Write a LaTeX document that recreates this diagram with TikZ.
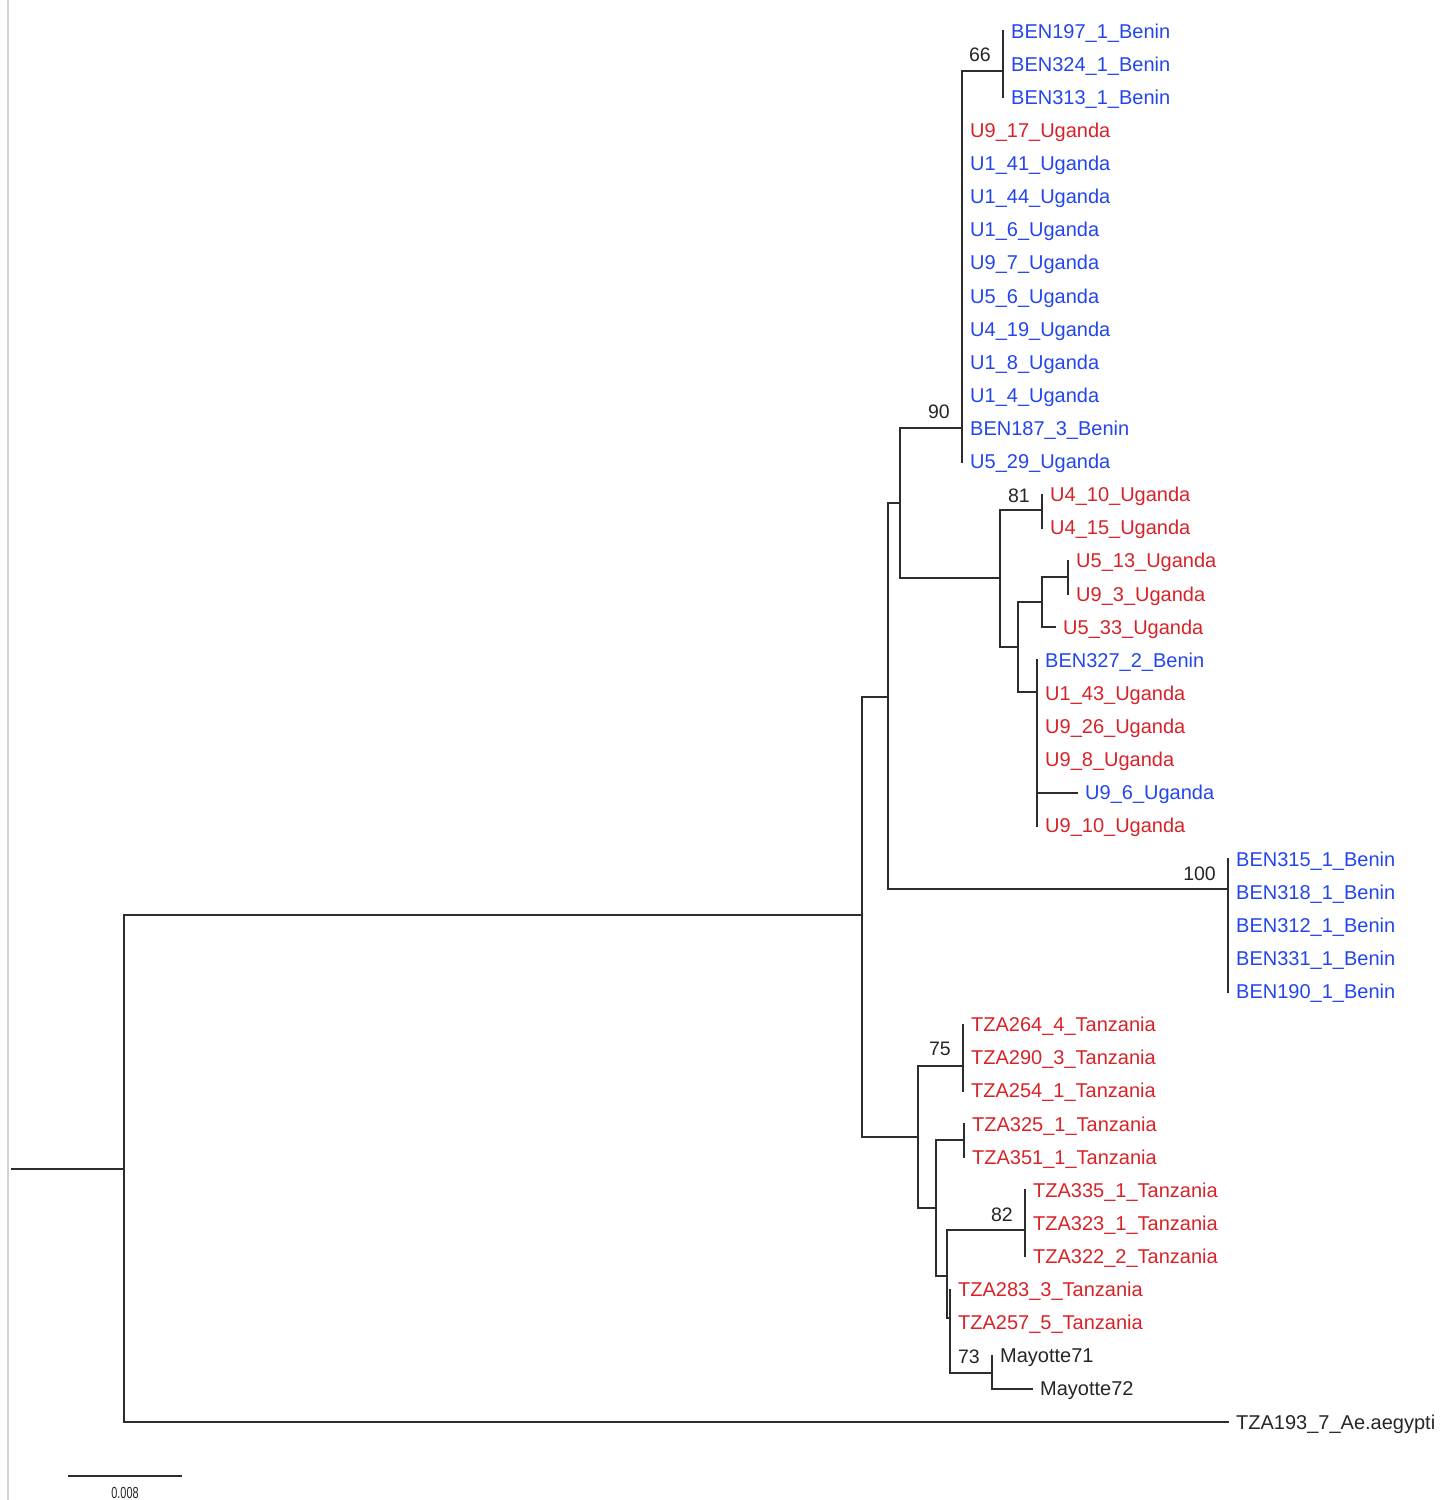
\documentclass[tikz,border=0pt]{standalone}
\usepackage{fontspec}
\setmainfont{Liberation Sans}
\definecolor{tblue}{RGB}{35,70,235}
\definecolor{tred}{RGB}{215,35,40}
\definecolor{tline}{RGB}{45,45,45}
\newcommand\myleaf[5]{%
  \coordinate (tip#1) at (#2,#3);
  \node[lbl,#4] (lab#1) at (#2+8,#3+7) {#5};}
\begin{document}
\begin{tikzpicture}[x=1pt,y=-1pt,
  br/.style={draw=tline,line width=2pt,line cap=rect},
  lbl/.style={anchor=base west,inner sep=0pt,font=\fontsize{20}{22}\selectfont},
  lb/.style={text=tblue},
  lr/.style={text=tred},
  lk/.style={text=black!85},
  boot/.style={anchor=base east,inner sep=0pt,text=black!85,font=\fontsize{19.5}{22}\selectfont}]
\useasboundingbox (0,0) rectangle (1456,1500);
% left frame line
\coordinate (fa) at (8,0);
\coordinate (fb) at (8,1500);
\draw[gray!35,line width=1.6pt] (fa) -- (fb);
% internal nodes
\coordinate (stem) at (12,1169);
\coordinate (root) at (124,1169);
\coordinate (ing) at (862,915);
\coordinate (up) at (888,697);
\coordinate (u1) at (900,503);
\coordinate (n90) at (962,428);
\coordinate (n66) at (1003,71);
\coordinate (n2) at (1000,578);
\coordinate (n81) at (1042,510);
\coordinate (n3) at (1018,647);
\coordinate (n4) at (1042,602);
\coordinate (n6) at (1068,577);
\coordinate (n5) at (1037,692);
\coordinate (n100) at (1228,889);
\coordinate (tz) at (918,1137);
\coordinate (n75) at (963,1066);
\coordinate (tzb) at (936,1208);
\coordinate (tzc) at (964,1140);
\coordinate (tzd) at (947,1276);
\coordinate (n82) at (1025,1230);
\coordinate (tze) at (950,1318);
\coordinate (n73) at (992,1373);
% leaves
\myleaf{1}{1003}{31}{lb}{BEN197\_1\_Benin}
\myleaf{2}{1003}{64.1}{lb}{BEN324\_1\_Benin}
\myleaf{3}{1003}{97.2}{lb}{BEN313\_1\_Benin}
\myleaf{4}{962}{130.4}{lr}{U9\_17\_Uganda}
\myleaf{5}{962}{163.5}{lb}{U1\_41\_Uganda}
\myleaf{6}{962}{196.6}{lb}{U1\_44\_Uganda}
\myleaf{7}{962}{229.7}{lb}{U1\_6\_Uganda}
\myleaf{8}{962}{262.8}{lb}{U9\_7\_Uganda}
\myleaf{9}{962}{296.0}{lb}{U5\_6\_Uganda}
\myleaf{10}{962}{329.1}{lb}{U4\_19\_Uganda}
\myleaf{11}{962}{362.2}{lb}{U1\_8\_Uganda}
\myleaf{12}{962}{395.3}{lb}{U1\_4\_Uganda}
\myleaf{13}{962}{428.4}{lb}{BEN187\_3\_Benin}
\myleaf{14}{962}{461.6}{lb}{U5\_29\_Uganda}
\myleaf{15}{1042}{494.7}{lr}{U4\_10\_Uganda}
\myleaf{16}{1042}{527.8}{lr}{U4\_15\_Uganda}
\myleaf{17}{1068}{560.9}{lr}{U5\_13\_Uganda}
\myleaf{18}{1068}{594.0}{lr}{U9\_3\_Uganda}
\myleaf{19}{1055}{627.2}{lr}{U5\_33\_Uganda}
\myleaf{20}{1037}{660.3}{lb}{BEN327\_2\_Benin}
\myleaf{21}{1037}{693.4}{lr}{U1\_43\_Uganda}
\myleaf{22}{1037}{726.5}{lr}{U9\_26\_Uganda}
\myleaf{23}{1037}{759.6}{lr}{U9\_8\_Uganda}
\myleaf{24}{1077}{792.8}{lb}{U9\_6\_Uganda}
\myleaf{25}{1037}{825.9}{lr}{U9\_10\_Uganda}
\myleaf{26}{1228}{859.0}{lb}{BEN315\_1\_Benin}
\myleaf{27}{1228}{892.1}{lb}{BEN318\_1\_Benin}
\myleaf{28}{1228}{925.2}{lb}{BEN312\_1\_Benin}
\myleaf{29}{1228}{958.4}{lb}{BEN331\_1\_Benin}
\myleaf{30}{1228}{991.5}{lb}{BEN190\_1\_Benin}
\myleaf{31}{963}{1024.6}{lr}{TZA264\_4\_Tanzania}
\myleaf{32}{963}{1057.7}{lr}{TZA290\_3\_Tanzania}
\myleaf{33}{963}{1090.8}{lr}{TZA254\_1\_Tanzania}
\myleaf{34}{964}{1124.0}{lr}{TZA325\_1\_Tanzania}
\myleaf{35}{964}{1157.1}{lr}{TZA351\_1\_Tanzania}
\myleaf{36}{1025}{1190.2}{lr}{TZA335\_1\_Tanzania}
\myleaf{37}{1025}{1223.3}{lr}{TZA323\_1\_Tanzania}
\myleaf{38}{1025}{1256.4}{lr}{TZA322\_2\_Tanzania}
\myleaf{39}{950}{1289.6}{lr}{TZA283\_3\_Tanzania}
\myleaf{40}{950}{1322.7}{lr}{TZA257\_5\_Tanzania}
\myleaf{41}{992}{1355.8}{lk}{Mayotte71}
\myleaf{42}{1032}{1388.9}{lk}{Mayotte72}
\myleaf{43}{1228}{1422.0}{lk}{TZA193\_7\_Ae.aegypti}
% branches
\draw[br] (stem) -- (root);
\draw[br] (root) |- (ing);
\draw[br] (root) |- (tip43);
\draw[br] (ing) |- (up);
\draw[br] (ing) |- (tz);
\draw[br] (up) |- (u1);
\draw[br] (up) |- (n100);
\draw[br] (u1) |- (n90);
\draw[br] (u1) |- (n2);
\draw[br] (n90) |- (n66);
\draw[br] (n90) |- (tip14);
\foreach \i in {1,3} \draw[br] (n66) |- (tip\i);
\draw[br] (n2) |- (n81);
\draw[br] (n2) |- (n3);
\foreach \i in {15,16} \draw[br] (n81) |- (tip\i);
\draw[br] (n3) |- (n4);
\draw[br] (n3) |- (n5);
\draw[br] (n4) |- (n6);
\draw[br] (n4) |- (tip19);
\foreach \i in {17,18} \draw[br] (n6) |- (tip\i);
\foreach \i in {20,25,24} \draw[br] (n5) |- (tip\i);
\foreach \i in {26,30} \draw[br] (n100) |- (tip\i);
\draw[br] (tz) |- (n75);
\draw[br] (tz) |- (tzb);
\foreach \i in {31,33} \draw[br] (n75) |- (tip\i);
\draw[br] (tzb) |- (tzc);
\draw[br] (tzb) |- (tzd);
\foreach \i in {34,35} \draw[br] (tzc) |- (tip\i);
\draw[br] (tzd) |- (n82);
\draw[br] (tzd) |- (tze);
\foreach \i in {36,38} \draw[br] (n82) |- (tip\i);
\draw[br] (tze) |- (tip39);
\draw[br] (tze) |- (n73);
\draw[br] (n73) |- (tip41);
\draw[br] (n73) |- (tip42);
% bootstrap values
\node[boot] (b66) at (1003-12,71-10) {66};
\node[boot] (b90) at (962-12,428-10) {90};
\node[boot] (b81) at (1042-12,510-8) {81};
\node[boot] (b100) at (1228-12,889-9) {100};
\node[boot] (b75) at (963-12,1066-11) {75};
\node[boot] (b82) at (1025-12,1230-9) {82};
\node[boot] (b73) at (992-12,1373-10) {73};
% scale bar
\coordinate (sa) at (68,1476);
\coordinate (sb) at (182,1476);
\draw[draw=tline,line width=1.8pt] (sa) -- (sb);
\node[inner sep=0pt,text=black!85,font=\fontsize{16}{17}\selectfont,xscale=0.68] (sl) at (125,1493) {0.008};
\end{tikzpicture}
\end{document}
